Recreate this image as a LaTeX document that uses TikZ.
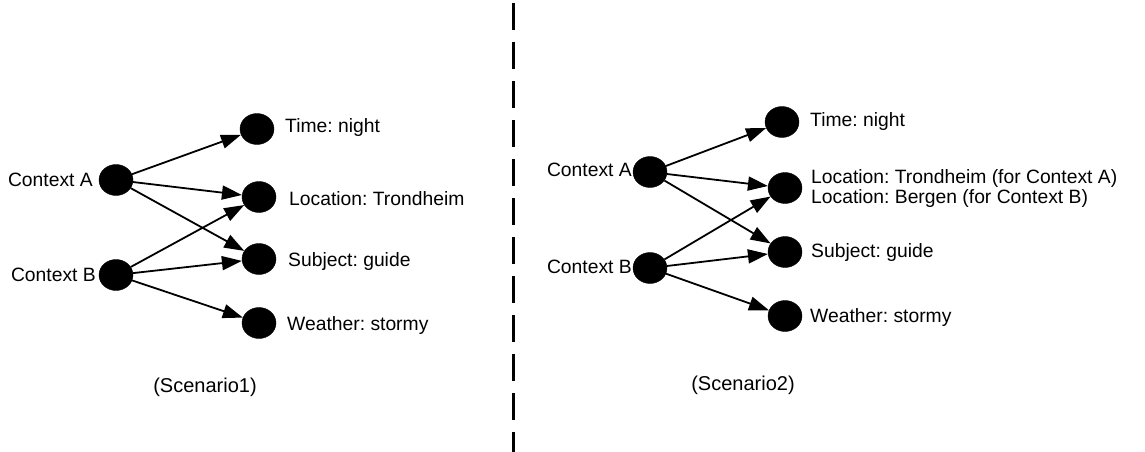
\documentclass[tikz,border=0pt]{standalone}
\usepackage{fontspec}
\setmainfont{Liberation Sans}
\frenchspacing
\usetikzlibrary{shapes.geometric,arrows.meta}
\begin{document}
\begin{tikzpicture}[x=1pt,y=-1pt,
  dot/.style={ellipse,fill=black,draw=black,inner sep=0pt,minimum width=34pt,minimum height=31pt},
  lbl/.style={font=\fontsize{19.3}{22}\selectfont,inner sep=0pt,anchor=west},
  lblr/.style={font=\fontsize{19.3}{22}\selectfont,inner sep=0pt,anchor=east},
  scenlabel/.style={font=\fontsize{20}{23}\selectfont,inner sep=0pt},
  link/.style={line width=1.8pt,-{Triangle[length=20pt,width=14pt]}}]
\useasboundingbox (0,0) rectangle (1145,452);

% separator between the two scenarios
\draw[line width=3pt,dash pattern=on 27pt off 12pt] (513,3) -- (513,452);

% ---------- Scenario 1 ----------
\node[dot] (a1) at (116,180) {};
\node[dot] (b1) at (116,275) {};
\node[dot] (t1) at (257,129) {};
\node[dot] (l1) at (259,197) {};
\node[dot] (s1) at (259,259) {};
\node[dot] (w1) at (259,323) {};

\node[lblr] (ca1) at (93,180) {Context A};
\node[lblr] (cb1) at (96,275) {Context B};
\node[lbl] (tt1) at (285,128) {Time: night};
\node[lbl] (tl1) at (289,199) {Location: Trondheim};
\node[lbl] (ts1) at (288,262) {Subject: guide};
\node[lbl] (tw1) at (287,326) {Weather: stormy};

\draw[link] (a1) -- (t1);
\draw[link] (a1) -- (l1);
\draw[link] (a1) -- (s1);
\draw[link] (b1) -- (l1);
\draw[link] (b1) -- (s1);
\draw[link] (b1) -- (w1);

\node[scenlabel] (sc1) at (205,387) {(Scenario1)};

% ---------- Scenario 2 ----------
\node[dot] (a2) at (650,172) {};
\node[dot] (b2) at (650,268) {};
\node[dot] (t2) at (782,122) {};
\node[dot] (l2) at (785,188) {};
\node[dot] (s2) at (785,252) {};
\node[dot] (w2) at (785,316) {};

\node[lblr] (ca2) at (632,170) {Context A};
\node[lblr] (cb2) at (632,267) {Context B};
\node[lbl] (tt2) at (810,122) {Time: night};
\node[lbl] (tl2) at (811,179) {Location: Trondheim (for Context A)};
\node[lbl] (tg2) at (811,199) {Location: Bergen (for Context B)};
\node[lbl] (ts2) at (811,253) {Subject: guide};
\node[lbl] (tw2) at (810,318) {Weather: stormy};

\draw[link] (a2) -- (t2);
\draw[link] (a2) -- (l2);
\draw[link] (a2) -- (s2);
\draw[link] (b2) -- (l2);
\draw[link] (b2) -- (s2);
\draw[link] (b2) -- (w2);

\node[scenlabel] (sc2) at (743,385) {(Scenario2)};
\end{tikzpicture}
\end{document}
